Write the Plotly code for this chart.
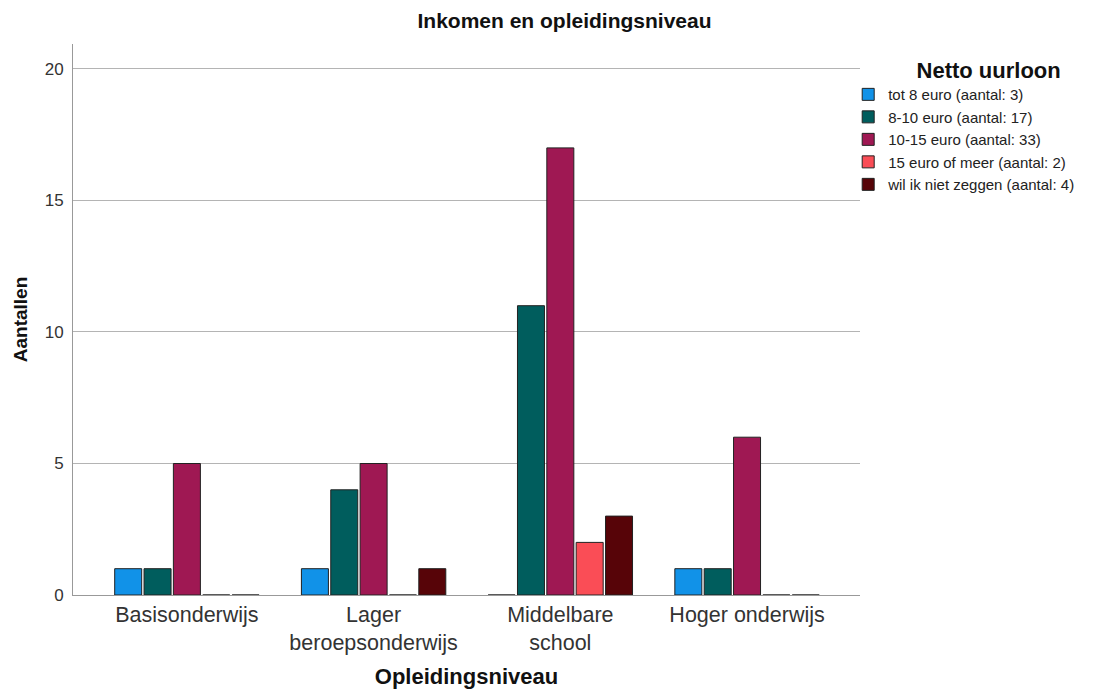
import plotly.graph_objects as go

categories = ["Basisonderwijs", "Lager<br>beroepsonderwijs", "Middelbare<br>school", "Hoger onderwijs"]
series_names = [
    "tot 8 euro (aantal: 3)",
    "8-10 euro (aantal: 17)",
    "10-15 euro (aantal: 33)",
    "15 euro of meer (aantal: 2)",
    "wil ik niet zeggen (aantal: 4)",
]
tot8 = [1, 1, 0, 1]
e8_10 = [1, 4, 11, 1]
e10_15 = [5, 5, 17, 6]
e15plus = [0, 0, 2, 0]
niet_zeggen = [0, 1, 3, 0]
series_values = [tot8, e8_10, e10_15, e15plus, niet_zeggen]
colors = ["#1192e8", "#005d5d", "#9f1853", "#fa4d56", "#570408"]

FONT = "Arial, Liberation Sans, sans-serif"

fig = go.Figure()
for name, vals, col in zip(series_names, series_values, colors):
    fig.add_trace(go.Bar(
        x=list(range(len(categories))), y=vals, name=name,
        marker=dict(color=col, line=dict(color="#222222", width=1)),
    ))

fig.update_layout(
    width=1102, height=681,
    paper_bgcolor="white", plot_bgcolor="white",
    margin=dict(l=65, r=250, t=36, b=94),
    barmode="group", bargap=0.214, bargroupgap=0.08,
    font=dict(family=FONT, color="#222222"),
    title=dict(text="<b>Inkomen en opleidingsniveau</b>", x=0.505, xref="container", y=0.982,
               yref="container", xanchor="center", yanchor="middle",
               font=dict(size=21, family=FONT, color="#111111")),
    xaxis=dict(
        tickmode="array", tickvals=list(range(len(categories))), ticktext=categories,
        range=[-0.61, 3.605], showgrid=False, showline=True, linecolor="#999999",
        linewidth=1, ticks="", tickfont=dict(size=21.5, color="#333333"),
        title=dict(text="<b>Opleidingsniveau</b>", font=dict(size=22, color="#111111"), standoff=18),
        zeroline=False, automargin=False,
    ),
    yaxis=dict(
        range=[0, 20.95], tickvals=[0, 5, 10, 15, 20], showgrid=True, gridcolor="#b4b4b4",
        gridwidth=1, showline=True, linecolor="#999999", linewidth=1, ticks="",
        ticklabelstandoff=5,
        tickfont=dict(size=17, color="#333333"), zeroline=False, automargin=False,
        title=dict(text="<b>Aantallen</b>", font=dict(size=19, color="#111111"), standoff=12),
    ),
    legend=dict(
        x=0.985, xanchor="left", y=0.99, yanchor="top",
        title=dict(text="&nbsp;&nbsp;&nbsp;&nbsp;&nbsp;&nbsp;&nbsp;&nbsp;<b>Netto uurloon</b>",
                   side="top center", font=dict(size=22, color="#111111")),
        font=dict(size=15, color="#222222"), itemwidth=30, tracegroupgap=0,
        bgcolor="rgba(0,0,0,0)",
    ),
)

fig.write_html("out.html")
